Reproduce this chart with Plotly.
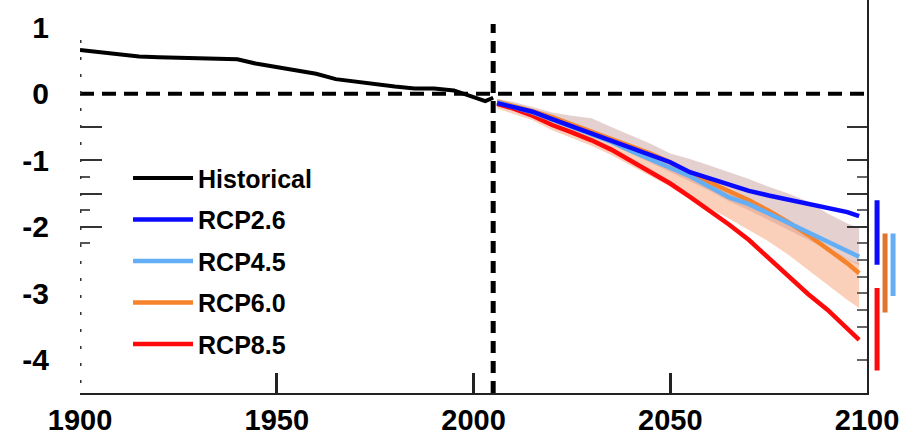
import plotly.graph_objects as go

# Observed global series, 1900-2005
hist_years = [1900, 1905, 1910, 1915, 1920, 1925, 1930, 1935, 1940, 1945, 1950,
              1955, 1960, 1965, 1970, 1975, 1980, 1985, 1990, 1995, 2000, 2003, 2005]
hist_vals = [0.66, 0.63, 0.60, 0.56, 0.55, 0.54, 0.54, 0.53, 0.52, 0.45, 0.40,
             0.36, 0.30, 0.22, 0.18, 0.14, 0.11, 0.08, 0.08, 0.05, -0.05, -0.11, -0.06]

# Scenario projections, 2006-2098
rcp_years = [2006, 2010, 2015, 2020, 2025, 2030, 2035, 2040, 2045, 2050,
             2055, 2060, 2065, 2070, 2075, 2080, 2085, 2090, 2095, 2098]
rcp26 = [-0.14, -0.20, -0.27, -0.38, -0.49, -0.60, -0.70, -0.82, -0.92, -1.03,
         -1.18, -1.27, -1.36, -1.46, -1.53, -1.59, -1.65, -1.71, -1.78, -1.84]
rcp45 = [-0.13, -0.19, -0.28, -0.39, -0.50, -0.61, -0.72, -0.86, -0.99, -1.12,
         -1.24, -1.40, -1.56, -1.66, -1.80, -1.95, -2.08, -2.22, -2.36, -2.45]
rcp60 = [-0.12, -0.18, -0.26, -0.35, -0.46, -0.56, -0.67, -0.79, -0.90, -1.03,
         -1.20, -1.33, -1.46, -1.60, -1.76, -1.93, -2.12, -2.33, -2.55, -2.70]
rcp85 = [-0.15, -0.22, -0.33, -0.47, -0.58, -0.70, -0.84, -1.01, -1.17, -1.35,
         -1.55, -1.75, -1.97, -2.20, -2.47, -2.75, -3.01, -3.25, -3.52, -3.70]

# Model spread envelopes (low-emission and high-emission groups)
spread_low_top = [-0.08, -0.12, -0.20, -0.28, -0.33, -0.37, -0.50, -0.62, -0.75, -0.90,
                  -0.98, -1.08, -1.18, -1.28, -1.40, -1.50, -1.62, -1.80, -1.95, -2.02]
spread_low_bot = [-0.16, -0.22, -0.30, -0.42, -0.53, -0.64, -0.76, -0.90, -1.04, -1.18,
                  -1.32, -1.46, -1.62, -1.75, -1.90, -2.05, -2.20, -2.35, -2.50, -2.58]
spread_high_top = [-0.12, -0.18, -0.26, -0.36, -0.45, -0.55, -0.66, -0.78, -0.90, -1.03,
                   -1.18, -1.33, -1.48, -1.62, -1.78, -1.95, -2.12, -2.30, -2.48, -2.55]
spread_high_bot = [-0.22, -0.30, -0.40, -0.55, -0.67, -0.78, -0.92, -1.08, -1.24, -1.40,
                   -1.58, -1.72, -1.88, -2.05, -2.22, -2.42, -2.65, -2.88, -3.10, -3.22]

# Likely ranges at 2100 for each scenario
range_names = ["RCP2.6", "RCP4.5", "RCP6.0", "RCP8.5"]
range_top = [-1.60, -2.10, -2.10, -2.92]
range_bot = [-2.57, -3.04, -3.29, -4.16]
range_slot = [1, 3, 2, 1]

y_ticks = [1, 0, -1, -2, -3, -4]
x_ticks = [1900, 1950, 2000, 2050, 2100]
ZERO_LEVEL = 0
SCENARIO_START = 2005

colors = {
    "Historical": "#000000",
    "RCP2.6": "#0a0aff",
    "RCP4.5": "#63aef5",
    "RCP6.0": "#f7822c",
    "RCP8.5": "#ff0a0a",
}
bar_colors = {"RCP2.6": "#0a0aff", "RCP4.5": "#63aef5", "RCP6.0": "#e0752f", "RCP8.5": "#ff0a0a"}

Y_RANGE = [-4.5, 1.41]
FONT = "Liberation Sans"

fig = go.Figure()

# Spread envelopes
fig.add_trace(go.Scatter(x=rcp_years, y=spread_low_top, mode="lines", line=dict(width=0),
                         showlegend=False, hoverinfo="skip"))
fig.add_trace(go.Scatter(x=rcp_years, y=spread_low_bot, mode="lines", line=dict(width=0),
                         fill="tonexty", fillcolor="rgba(196,150,148,0.45)",
                         showlegend=False, hoverinfo="skip"))
fig.add_trace(go.Scatter(x=rcp_years, y=spread_high_top, mode="lines", line=dict(width=0),
                         showlegend=False, hoverinfo="skip"))
fig.add_trace(go.Scatter(x=rcp_years, y=spread_high_bot, mode="lines", line=dict(width=0),
                         fill="tonexty", fillcolor="rgba(245,150,105,0.45)",
                         showlegend=False, hoverinfo="skip"))

# Historical series
fig.add_trace(go.Scatter(x=hist_years, y=hist_vals, mode="lines", name="Historical",
                         line=dict(color=colors["Historical"], width=4),
                         legendgroup="g0", legendrank=1))

# Scenario lines (drawn high emissions first so RCP2.6 sits on top)
series = [("RCP8.5", rcp85, 5), ("RCP6.0", rcp60, 4), ("RCP4.5", rcp45, 3), ("RCP2.6", rcp26, 2)]
for name, vals, rank in series:
    fig.add_trace(go.Scatter(x=rcp_years, y=vals, mode="lines", name=name,
                             line=dict(color=colors[name], width=4.5),
                             legendgroup="g" + str(rank), legendrank=rank))

# Range bars beside the plot
for name, top, bot, slot in zip(range_names, range_top, range_bot, range_slot):
    fig.add_trace(go.Scatter(x=[slot, slot], y=[top, bot], mode="lines",
                             line=dict(color=bar_colors[name], width=5),
                             xaxis="x2", yaxis="y2", showlegend=False, hoverinfo="skip"))

# Placeholders so the tick-only axes are drawn
for ax in ["y3", "y4"]:
    fig.add_trace(go.Scatter(x=[None], y=[None], yaxis=ax, showlegend=False, hoverinfo="skip"))

# Reference lines
fig.add_shape(type="line", xref="x", yref="y", x0=1900, x1=2100, y0=ZERO_LEVEL, y1=ZERO_LEVEL,
              line=dict(color="black", width=4, dash="14px,8px"))
fig.add_shape(type="line", xref="x", yref="y", x0=SCENARIO_START, x1=SCENARIO_START,
              y0=Y_RANGE[0], y1=1.05, line=dict(color="black", width=5, dash="12px,8px"))
# Dotted left spine
fig.add_shape(type="line", xref="x", yref="y", x0=1900, x1=1900, y0=-4.35, y1=0.85,
              line=dict(color="#333", width=3, dash="3px,14px"))

y_tick_font = dict(family=FONT, size=30, color="black", weight="bold")
x_tick_font = dict(family=FONT, size=29, color="black", weight="bold")

fig.update_layout(
    width=908, height=439,
    margin=dict(l=80, r=0, t=0, b=46, autoexpand=False),
    paper_bgcolor="white", plot_bgcolor="white",
    showlegend=True,
    legend=dict(x=0.058, y=0.605, xanchor="left", yanchor="top",
                font=dict(family=FONT, size=25, color="black", weight="bold"),
                itemwidth=60,
                bgcolor="rgba(0,0,0,0)", tracegroupgap=6, traceorder="grouped"),
    xaxis=dict(domain=[0, 0.9505], range=[1900, 2100], showgrid=False, zeroline=False,
               showline=True, linecolor="#222", linewidth=2, automargin=False,
               tickmode="array", tickvals=x_ticks, ticks="", tickfont=x_tick_font,
               ticklabelstandoff=0,
               minor=dict(tickmode="array", tickvals=[1950, 2000, 2050], ticks="inside",
                          ticklen=20, tickwidth=3, tickcolor="#222"),
               anchor="y"),
    yaxis=dict(range=Y_RANGE, showgrid=False, zeroline=False, showline=False, automargin=False,
               tickmode="array", tickvals=y_ticks, ticktext=[str(v) for v in y_ticks],
               ticks="", tickfont=y_tick_font, ticklabelstandoff=30, anchor="x"),
    yaxis3=dict(range=Y_RANGE, overlaying="y", side="left", anchor="x", automargin=False,
                showgrid=False, zeroline=False, showline=False, showticklabels=False,
                tickmode="array", tickvals=[-0.5, -1, -1.5, -2], ticks="inside",
                ticklen=22, tickwidth=1.5, tickcolor="#333",
                minor=dict(tickmode="array", tickvals=[-1.25, -1.75, -2.25], ticks="inside",
                           ticklen=10, tickwidth=1.5, tickcolor="#555")),
    yaxis4=dict(range=Y_RANGE, overlaying="y", side="right", anchor="x", automargin=False,
                showgrid=False, zeroline=False, showline=True, linecolor="#222", linewidth=2,
                showticklabels=False,
                tickmode="array", tickvals=[-0.5, -1, -1.5, -2], ticks="inside",
                ticklen=20, tickwidth=2, tickcolor="#333",
                minor=dict(tickmode="array",
                           tickvals=[-1.25, -1.75, -2.25, -2.5, -2.75, -3, -3.25, -3.5, -4],
                           ticks="inside", ticklen=10, tickwidth=1.5, tickcolor="#666")),
    xaxis2=dict(domain=[0.955, 1], range=[0.21, 4.87], visible=False, anchor="y2"),
    yaxis2=dict(range=Y_RANGE, visible=False, anchor="x2"),
)

fig.write_html("out.html")
